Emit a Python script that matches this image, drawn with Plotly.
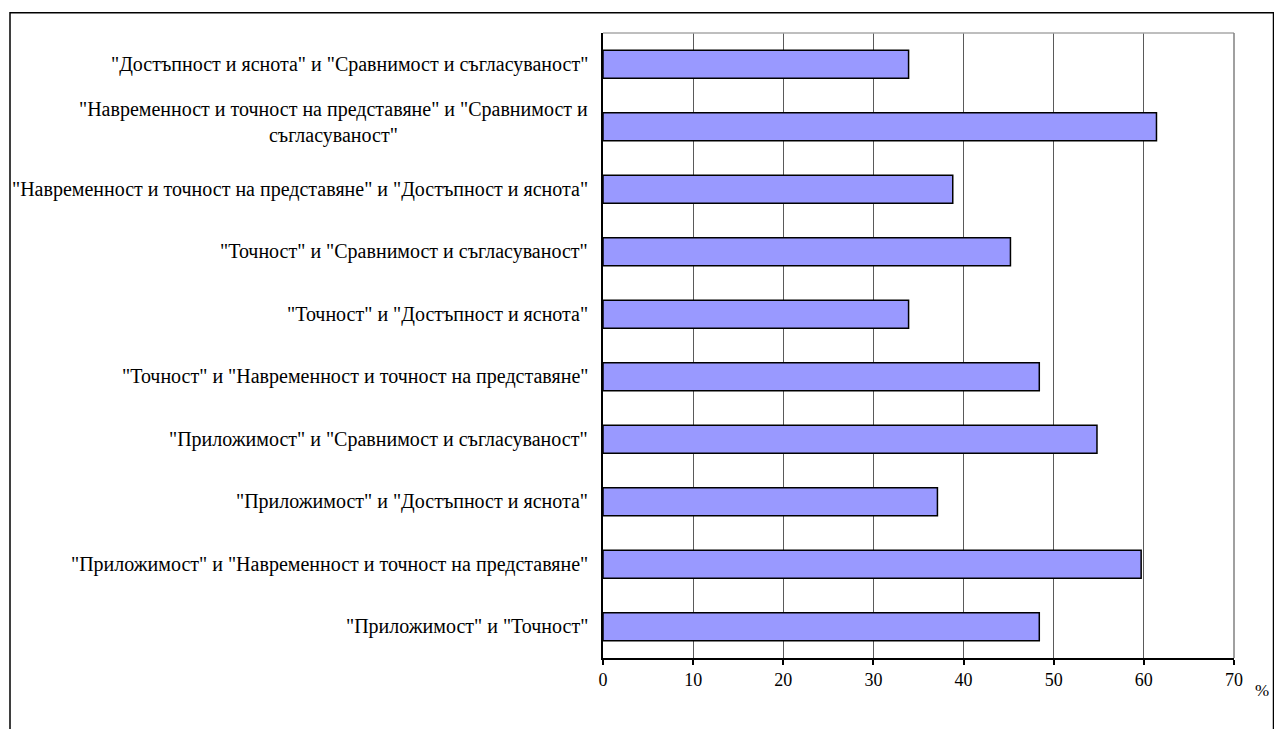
import plotly.graph_objects as go

# Pairs of quality components and the share of respondents (%)
categories = [
    '"Достъпност и яснота" и "Сравнимост и съгласуваност"',
    '"Навременност и точност на представяне" и "Сравнимост и<br>съгласуваност"',
    '"Навременност и точност на представяне" и "Достъпност и яснота"',
    '"Точност" и "Сравнимост и съгласуваност"',
    '"Точност" и "Достъпност и яснота"',
    '"Точност" и "Навременност и точност на представяне"',
    '"Приложимост" и "Сравнимост и съгласуваност"',
    '"Приложимост" и "Достъпност и яснота"',
    '"Приложимост" и "Навременност и точност на представяне"',
    '"Приложимост" и "Точност"',
]
values = [33.9, 61.4, 38.8, 45.2, 33.9, 48.4, 54.8, 37.1, 59.7, 48.4]
x_ticks = [0, 10, 20, 30, 40, 50, 60, 70]
unit_label = "%"

FONT = "Liberation Serif"
W, H = 1274, 729
L, R, T, B = 603, 40, 33, 71
plot_w = W - L - R
plot_h = H - T - B

fig = go.Figure(
    go.Bar(
        x=values,
        y=categories,
        orientation="h",
        marker=dict(color="#9999ff", line=dict(color="#000000", width=1.5)),
        width=0.45,
        hoverinfo="x+y",
    )
)

# Category labels to the left of the axis, wrapped lines centred
annotations = [
    dict(
        x=-13 / plot_w, xref="paper", xanchor="right",
        y=cat, yref="y", yanchor="middle",
        yshift=4 if "<br>" in cat else 0,
        text=cat, showarrow=False, align="center",
        font=dict(family=FONT, size=20, color="#000000"),
    )
    for cat in categories
]
annotations.append(
    dict(
        x=(1262 - L) / plot_w, xref="paper", xanchor="center",
        y=-32 / plot_h, yref="paper", yanchor="middle",
        text=unit_label, showarrow=False,
        font=dict(family=FONT, size=17, color="#000000"),
    )
)

shapes = [
    # outer chart frame
    dict(type="rect", xref="paper", yref="paper",
         x0=(10 - L) / plot_w, x1=(1273.5 - L) / plot_w,
         y0=-0.3, y1=(plot_h + T - 12.7) / plot_h,
         line=dict(color="#000000", width=1.5), layer="below"),
    # plot area top and right edges
    dict(type="line", xref="paper", yref="paper", x0=0, x1=1, y0=1, y1=1,
         line=dict(color="#a8a8a8", width=1.5)),
    dict(type="line", xref="paper", yref="paper", x0=1, x1=1, y0=0, y1=1,
         line=dict(color="#808080", width=1.5)),
]

fig.update_layout(
    width=W, height=H,
    margin=dict(l=L, r=R, t=T, b=B, pad=0),
    paper_bgcolor="#ffffff", plot_bgcolor="#ffffff",
    showlegend=False,
    font=dict(family=FONT, size=18, color="#000000"),
    annotations=annotations,
    shapes=shapes,
    xaxis=dict(
        range=[0, 70], tickvals=x_ticks, ticktext=[str(v) for v in x_ticks],
        showgrid=True, gridcolor="#5a5a5a", gridwidth=1,
        zeroline=False, showline=True, linecolor="#000000", linewidth=1.5,
        ticks="outside", ticklen=5, tickcolor="#000000", tickwidth=1.5,
        tickfont=dict(family=FONT, size=18, color="#000000"),
        fixedrange=True,
    ),
    yaxis=dict(
        categoryorder="array", categoryarray=categories,
        autorange="reversed", showticklabels=False, ticks="",
        showgrid=False, zeroline=False,
        showline=True, linecolor="#000000", linewidth=1.5,
        fixedrange=True,
    ),
)

fig.write_html("out.html", config={"displayModeBar": False})
